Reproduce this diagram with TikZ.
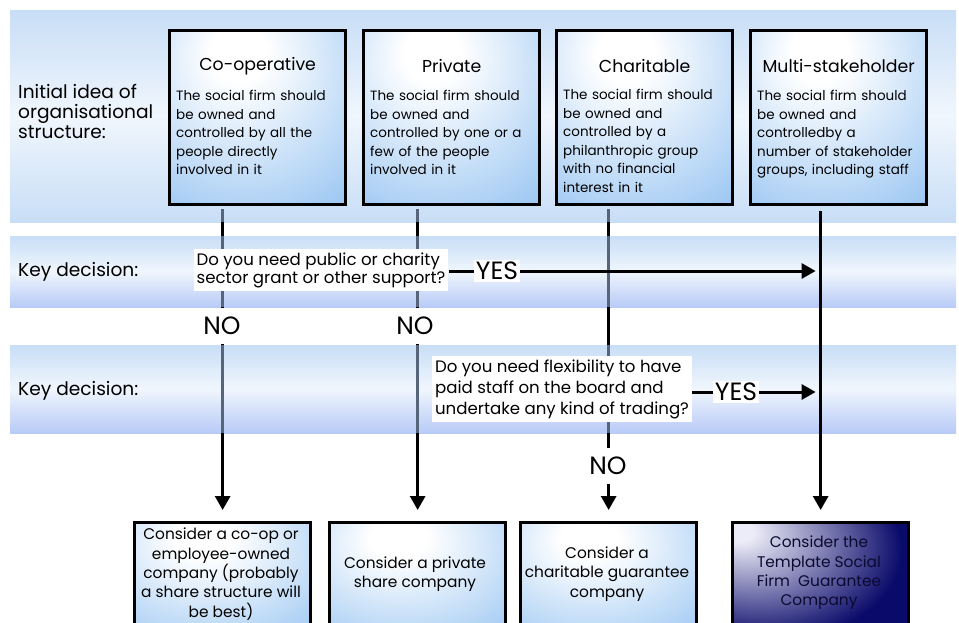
\documentclass[tikz,border=0pt]{standalone}
\usepackage{fontspec}
\setmainfont{Poppins}
\usetikzlibrary{arrows.meta,calc}
\definecolor{bandA}{HTML}{C8DEF6}
\definecolor{bandB}{HTML}{F0F6FD}
\definecolor{boxblue}{HTML}{82B8EF}
\definecolor{navy}{HTML}{0A0A6A}
\definecolor{glowwhite}{HTML}{ECECF8}
\definecolor{lineGray}{HTML}{56657A}
\definecolor{darktext}{HTML}{0A0A30}
\pgfdeclareradialshading{topglow}{\pgfpoint{-6bp}{20bp}}{color(0bp)=(white); color(8bp)=(white); color(55bp)=(boxblue); color(100bp)=(boxblue)}
\pgfdeclareradialshading{darkglow}{\pgfpoint{-24bp}{22bp}}{color(0bp)=(glowwhite); color(4bp)=(glowwhite); color(38bp)=(navy); color(100bp)=(navy)}
\tikzset{
  topbox/.style={draw=black, line width=3.3pt, shade, shading=topglow, minimum width=176pt, minimum height=174pt, anchor=north west, inner sep=0pt},
  outbox/.style={draw=black, line width=3.3pt, shade, shading=topglow, minimum width=176pt, minimum height=120pt, anchor=north west, inner sep=0pt},
  darkbox/.style={draw=black, line width=3.3pt, shade, shading=darkglow, minimum width=176pt, minimum height=120pt, anchor=north west, inner sep=0pt},
  titletext/.style={font=\fontsize{17.3}{20}\selectfont, inner sep=0pt},
  bodytext/.style={font=\fontsize{13.5}{18.5}\selectfont, text width=174pt, align=left, anchor=north west, inner sep=0pt},
  outtext/.style={font=\fontsize{15.4}{19.3}\selectfont, align=center, inner sep=0pt},
  sidelabel/.style={font=\fontsize{18.6}{20}\selectfont, align=left, anchor=west, inner sep=0pt},
  question/.style={fill=white, align=left, inner sep=3pt},
  answer/.style={fill=white, font=\fontsize{25}{25}\selectfont, inner sep=2pt},
  noanswer/.style={answer, minimum height=36pt},
  flow/.style={line width=3pt, -{Triangle[width=15pt,length=14pt]}},
  plainline/.style={line width=3pt},
  bandline/.style={line width=3pt, draw=lineGray},
}
\begin{document}
\begin{tikzpicture}[x=1pt,y=-1pt]
\useasboundingbox (0,0) rectangle (959,622);
\clip (0,0) rectangle (959,622);
\fill[white] (0,0) rectangle (959,622);
% bands
\shade[top color=bandA, bottom color=bandA, middle color=bandB] (10,10) rectangle (956,222);
\shade[top color=bandA, bottom color=bandA!90!blue!95, middle color=bandB] (10,236) rectangle (956,307);
\shade[top color=bandA, bottom color=bandA!90!blue!95, middle color=bandB] (10,345) rectangle (956,433);
\coordinate (b1b) at (0,222);
\coordinate (b2t) at (0,236);
\coordinate (b2b) at (0,307);
\coordinate (b3t) at (0,345);
\coordinate (b3b) at (0,433);
% top boxes
\node[topbox] (c1) at (168,29) {};
\node[topbox] (c2) at (362,29) {};
\node[topbox] (c3) at (555,29) {};
\node[topbox] (c4) at (749,29) {};
\node[titletext] (c1t) at ($(c1.north)+(0,37)$) {Co-operative};
\node[titletext] (c2t) at ($(c2.north)+(0,37)$) {Private};
\node[titletext] (c3t) at ($(c3.north)+(0,37)$) {Charitable};
\node[titletext] (c4t) at ($(c4.north)+(0,37)$) {Multi-stakeholder};
\node[bodytext] (c1b) at ($(c1.north west)+(8,61)$) {The social firm should\\be owned and\\controlled by all the\\people directly\\involved in it};
\node[bodytext] (c2b) at ($(c2.north west)+(8,61)$) {The social firm should\\be owned and\\controlled by one or a\\few of the people\\involved in it};
\node[bodytext] (c3b) at ($(c3.north west)+(8,60)$) {The social firm should\\be owned and\\controlled by a\\philanthropic group\\with no financial\\interest in it};
\node[bodytext] (c4b) at ($(c4.north west)+(8,61)$) {The social firm should\\be owned and\\controlledby a\\number of stakeholder\\groups, including staff};
% outcome boxes
\node[outbox] (o1) at (133,521) {};
\node[outbox] (o2) at (328,521) {};
\node[outbox] (o3) at (519,521) {};
\node[darkbox] (o4) at (731,521) {};
\node[outtext] (o1t) at (221,574) {Consider a co-op or\\employee-owned\\company (probably\\a share structure will\\be best)};
\node[outtext] (o2t) at (415,574) {Consider a private\\share company};
\node[outtext] (o3t) at (607,574) {Consider a\\charitable guarantee\\company};
\node[outtext, text=darktext] (o4t) at (819,573) {Consider the\\Template Social\\Firm\ \ Guarantee\\Company};
% column lines behind bands
\draw[flow, shorten <=5pt, shorten >=11pt] (c1.south -| o1.north) -- (o1.north);
\draw[flow, shorten <=5pt, shorten >=11pt] (c2.south -| o2.north) -- (o2.north);
\draw[flow, shorten <=5pt, shorten >=11pt] (c3.south -| o3.north) -- (o3.north);
\foreach \o in {o1,o2,o3}{
  \draw[bandline] (\o.north |- 0,209) -- (\o.north |- b1b);
  \draw[bandline] (\o.north |- b2t) -- (\o.north |- b2b);
  \draw[bandline] (\o.north |- b3t) -- (\o.north |- b3b);
}
% side labels
\node[sidelabel] (l1) at (18,111) {Initial idea of\\organisational\\structure:};
\node[sidelabel] (l2) at (18,272) {Key decision:};
\node[sidelabel] (l3) at (18,391) {Key decision:};
% questions
\node[question, font=\fontsize{16.6}{18}\selectfont] (q1) at (321,270) {Do you need public or charity\\sector grant or other support?};
\node[question, font=\fontsize{16.6}{21}\selectfont] (q2) at (562,389) {Do you need flexibility to have\\paid staff on the board and\\undertake any kind of trading?};
\node[answer] (y1) at (497,271) {YES};
\node[answer] (y2) at (736,392) {YES};
\node[noanswer] (n1) at (222,326) {NO};
\node[noanswer] (n2) at (415,326) {NO};
\node[noanswer] (n3) at (608,466) {NO};
% multi-stakeholder line
\draw[flow, shorten <=5pt, shorten >=11pt] (c4.south -| o4.north) -- (o4.north);
\coordinate (h1) at (o4.north |- y1);
\coordinate (h2) at (o4.north |- y2);
\draw[plainline] (q1.east |- y1) -- (y1.west);
\draw[flow, shorten >=5pt] (y1.east) -- (h1);
\draw[plainline] (q2.east |- y2) -- (y2.west);
\draw[flow, shorten >=5pt] (y2.east) -- (h2);
\end{tikzpicture}
\end{document}
